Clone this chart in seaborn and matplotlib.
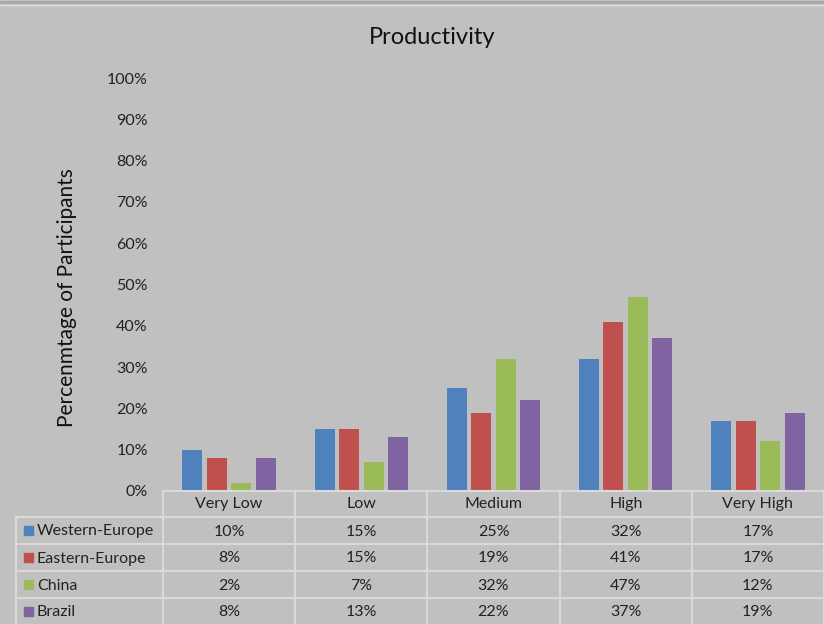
import matplotlib
matplotlib.use("Agg")
import matplotlib.pyplot as plt
import seaborn as sns
import pandas as pd
from matplotlib.lines import Line2D
from matplotlib.patches import Rectangle

categories = ["Very Low", "Low", "Medium", "High", "Very High"]
western_europe = [10, 15, 25, 32, 17]
eastern_europe = [8, 15, 19, 41, 17]
china = [2, 7, 32, 47, 12]
brazil = [8, 13, 22, 37, 19]
series_names = ["Western-Europe", "Eastern-Europe", "China", "Brazil"]
series_values = [western_europe, eastern_europe, china, brazil]
y_ticks = [0, 10, 20, 30, 40, 50, 60, 70, 80, 90, 100]
colors = ["#4F81BD", "#C0504D", "#9BBB59", "#8064A2"]

rows = []
for name, vals in zip(series_names, series_values):
    for c, v in zip(categories, vals):
        rows.append({"Category": c, "Series": name, "Value": v})
df = pd.DataFrame(rows)

sns.set_style("white")
plt.rcParams["font.family"] = ["Lato", "DejaVu Sans"]

W, H = 824, 624
bg = "#C0C0C0"
line_c = "#DADADA"
fig = plt.figure(figsize=(W / 100, H / 100), dpi=100, facecolor=bg)

x0, x1 = 163, 824
y_top, y_bot = 78, 491
ax = fig.add_axes([x0 / W, 1 - y_bot / H, (x1 - x0) / W, (y_bot - y_top) / H])
ax.set_facecolor(bg)
sns.barplot(data=df, x="Category", y="Value", hue="Series", order=categories,
            hue_order=series_names, palette=colors, width=0.74, gap=0.18,
            saturation=1, linewidth=0, ax=ax, legend=False)
ax.set_xlim(-0.5, len(categories) - 0.5)
ax.set_ylim(0, 100)
ax.set_yticks(y_ticks)
ax.set_yticklabels([f"{t}%" for t in y_ticks], fontsize=11.5, color="#222222")
ax.tick_params(axis="y", length=0, pad=11)
ax.set_xticks([])
ax.set_xlabel("")
ax.set_ylabel("")
for s in ax.spines.values():
    s.set_visible(False)

def fx(px):
    return px / W

def fy(py):
    return 1 - py / H

fig.text(fx(432), fy(37), "Productivity", ha="center", va="center", fontsize=17, color="#111111")
fig.text(fx(67), fy(298), "Percenmtage of Participants", ha="center", va="center",
         rotation=90, fontsize=15, color="#111111")

# top border
fig.add_artist(Line2D([0, 1], [fy(2), fy(2)], color="#A8A8A8", lw=2))
fig.add_artist(Line2D([0, 1], [fy(4.5), fy(4.5)], color="#E0E0E0", lw=1))

# data table
col_w = (x1 - x0) / len(categories)
row_edges = [491, 517, 544, 571, 598, 624]
for i in range(len(categories) + 1):
    xx = x0 + i * col_w
    fig.add_artist(Line2D([fx(xx), fx(xx)], [fy(491), fy(624)], color=line_c, lw=1.5))
fig.add_artist(Line2D([fx(16), fx(16)], [fy(517), fy(624)], color=line_c, lw=1.5))
fig.add_artist(Line2D([fx(x0), fx(x1)], [fy(491), fy(491)], color=line_c, lw=1.5))
for ry in row_edges[1:5]:
    fig.add_artist(Line2D([fx(16), fx(x1)], [fy(ry), fy(ry)], color=line_c, lw=1.5))

for i, c in enumerate(categories):
    cx = x0 + (i + 0.5) * col_w
    fig.text(fx(cx), fy(504), c, ha="center", va="center", fontsize=11.5, color="#222222")

for r, (name, vals, col) in enumerate(zip(series_names, series_values, colors)):
    cy = (row_edges[r + 1] + row_edges[r + 2]) / 2
    fig.add_artist(Rectangle((fx(24), fy(cy + 4.5)), 9 / W, 9 / H, color=col,
                             transform=fig.transFigure))
    fig.text(fx(37), fy(cy + 1), name, ha="left", va="center", fontsize=11.5, color="#222222")
    for i, v in enumerate(vals):
        cx = x0 + (i + 0.5) * col_w
        fig.text(fx(cx), fy(cy + 1), f"{v}%", ha="center", va="center", fontsize=11.5, color="#222222")

fig.savefig("out.png", dpi=100, facecolor=bg)
